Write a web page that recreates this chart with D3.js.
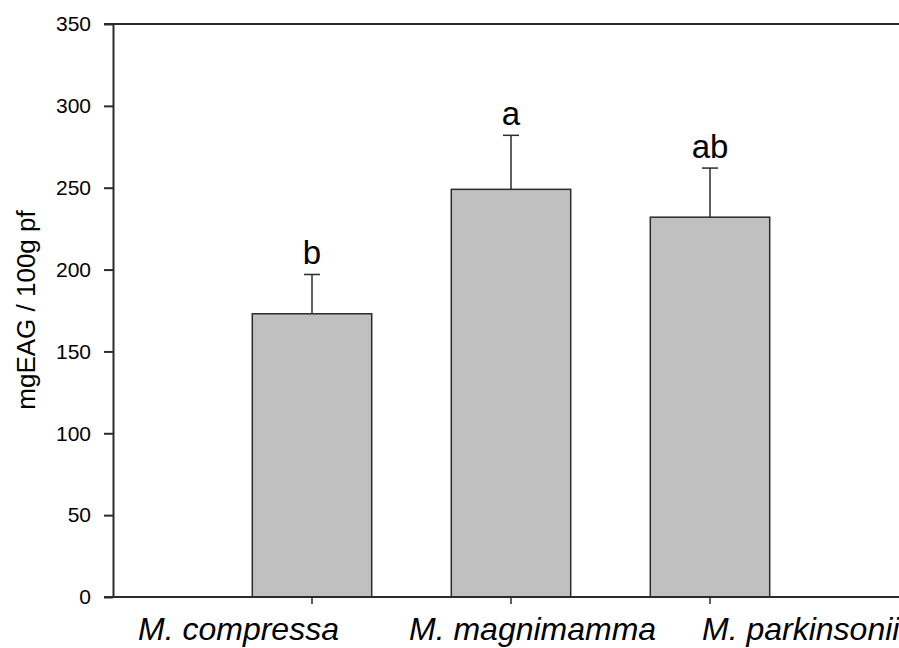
<!DOCTYPE html>
<html>
<head>
<meta charset="utf-8">
<script src="https://cdn.jsdelivr.net/npm/d3@7"></script>
<style>
  body { margin: 0; background: #fff; }
  svg { display: block; font-family: Arial, "Liberation Sans", sans-serif; }
</style>
</head>
<body>
<div id="chart"></div>
<script>
// data
const species = ["M. compressa", "M. magnimamma", "M. parkinsonii"];
const means = [173, 249, 232];
const errors = [24, 33, 30];
const groups = ["b", "a", "ab"];
const yTicks = [0, 50, 100, 150, 200, 250, 300, 350];

const svgWidth = 899;
const svgHeight = 648;
const lineColor = "#2b2b2b";

const svg = d3.select("#chart").append("svg")
    .attr("width", svgWidth)
    .attr("height", svgHeight);

// x positions 1..3 on a 0..4 axis (like the original plot)
const xScale = d3.scaleLinear().domain([0, 4]).range([113, 909]);
const yScale = d3.scaleLinear().domain([0, 350]).range([597, 24]);
const barW = xScale(0.6) - xScale(0);

// bars
svg.selectAll("rect.bar")
    .data(means)
    .enter()
    .append("rect")
    .attr("class", "bar")
    .attr("x", (d, i) => xScale(i + 1) - barW / 2)
    .attr("y", d => yScale(d))
    .attr("width", barW)
    .attr("height", d => yScale(0) - yScale(d))
    .style("fill", "#c0c0c0")
    .style("stroke", lineColor)
    .style("stroke-width", 1.5);

// error bars (upper only)
means.forEach((m, i) => {
    const cx = xScale(i + 1);
    svg.append("line")
        .attr("x1", cx).attr("x2", cx)
        .attr("y1", yScale(m)).attr("y2", yScale(m + errors[i]))
        .style("stroke", lineColor).style("stroke-width", 1.5);
    svg.append("line")
        .attr("x1", cx - 8).attr("x2", cx + 8)
        .attr("y1", yScale(m + errors[i])).attr("y2", yScale(m + errors[i]))
        .style("stroke", lineColor).style("stroke-width", 1.5);

    // significance letters
    svg.append("text")
        .attr("x", cx)
        .attr("y", yScale(m + errors[i]) - 10)
        .attr("text-anchor", "middle")
        .style("font-size", "33px")
        .style("fill", "#000")
        .text(groups[i]);
});

// y axis
const yAxis = d3.axisLeft(yScale)
    .tickValues(yTicks)
    .tickSize(9)
    .tickPadding(13)
    .tickSizeOuter(0);

const gy = svg.append("g")
    .attr("transform", "translate(113,0)")
    .call(yAxis);
gy.select(".domain").style("stroke", lineColor).style("stroke-width", 2);
gy.selectAll(".tick line").style("stroke", lineColor).style("stroke-width", 2);
gy.selectAll(".tick text")
    .style("font-size", "21px")
    .style("font-family", "Arial, 'Liberation Sans', sans-serif")
    .style("fill", "#000");

// x axis line and top frame line
svg.append("line")
    .attr("x1", 104).attr("x2", svgWidth)
    .attr("y1", yScale(0)).attr("y2", yScale(0))
    .style("stroke", lineColor).style("stroke-width", 2);
svg.append("line")
    .attr("x1", 104).attr("x2", svgWidth)
    .attr("y1", yScale(350)).attr("y2", yScale(350))
    .style("stroke", lineColor).style("stroke-width", 2);

// x ticks
svg.selectAll("line.xtick")
    .data(species)
    .enter()
    .append("line")
    .attr("class", "xtick")
    .attr("x1", (d, i) => xScale(i + 1))
    .attr("x2", (d, i) => xScale(i + 1))
    .attr("y1", yScale(0))
    .attr("y2", yScale(0) + 7)
    .style("stroke", lineColor)
    .style("stroke-width", 1.5);

// x labels (placed by hand in the original, so shifted from the ticks)
const labelShift = [-174, -102, -8];
svg.selectAll("text.xlab")
    .data(species)
    .enter()
    .append("text")
    .attr("class", "xlab")
    .attr("x", (d, i) => xScale(i + 1) + labelShift[i])
    .attr("y", 640)
    .attr("text-anchor", "start")
    .style("font-size", "32px")
    .style("font-style", "italic")
    .style("fill", "#000")
    .text(d => d);

// y title
svg.append("text")
    .attr("transform", "translate(35,310) rotate(-90)")
    .attr("text-anchor", "middle")
    .style("font-size", "26px")
    .style("fill", "#000")
    .text("mgEAG / 100g pf");
</script>
</body>
</html>
